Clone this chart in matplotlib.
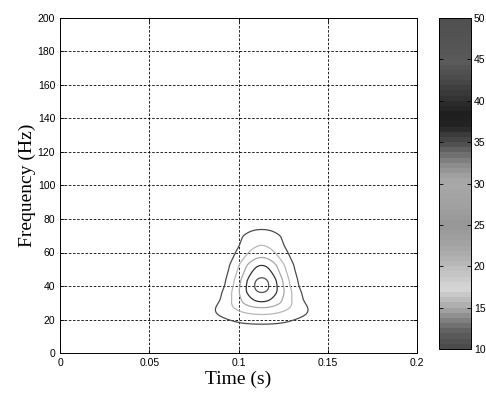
"""Time-frequency contour map with a banded grey colour scale."""

import matplotlib
matplotlib.use("Agg")
import matplotlib.pyplot as plt
import numpy as np
from matplotlib.colors import LinearSegmentedColormap, ListedColormap, Normalize
from matplotlib.cm import ScalarMappable

# contour levels and colour range
levels = [10, 20, 30, 40, 50]
clim = (10, 50)

# centre time of the burst (s)
t_centre = 0.113

# log-amplitude profile along the centre time, knots in Hz
prof_freq = [0, 12, 15.5, 16.7, 23, 27, 30.4, 36, 38, 40.5, 43, 45, 52.5, 57, 64, 70, 74, 77, 90, 200]
prof_logamp = [-6.0, 0.4, 1.6, 2.303, 3.0, 3.40, 3.69, 3.912, 3.96, 3.975, 3.96, 3.912, 3.69,
               3.40, 3.0, 2.80, 2.303, 1.4, -3.0, -20.0]

# time spread of the burst (s) against frequency
spread_freq = [0, 17, 22.7, 30.6, 40, 50, 60, 70, 200]
spread_time = [0.0235, 0.0225, 0.0215, 0.014, 0.0113, 0.0108, 0.0108, 0.0105, 0.0105]

# grey value of the colour scale at each data value
cmap_vals = [10, 11, 12, 13, 14, 15, 16, 17, 18.5, 20, 21, 23, 25, 27, 29, 30, 31, 32, 33,
             34, 35, 36, 37, 38.5, 40, 41, 43, 45, 47, 50]
cmap_grey = [75, 85, 100, 125, 150, 175, 195, 215, 200, 185, 175, 160, 150, 160, 165, 170,
             160, 145, 125, 100, 75, 60, 35, 30, 45, 55, 75, 90, 85, 80]

x_ticks = [0, 0.05, 0.1, 0.15, 0.2]
x_ticklabels = ["0", "0.05", "0.1", "0.15", "0.2"]
y_ticks = list(range(0, 201, 20))
cbar_ticks = [10, 15, 20, 25, 30, 35, 40, 45, 50]


def smooth(values, step, width):
    """Gaussian smoothing of a regularly sampled profile."""
    half = int(4 * width / step)
    k = np.exp(-0.5 * (np.arange(-half, half + 1) * step / width) ** 2)
    k /= k.sum()
    padded = np.pad(values, half, mode="edge")
    return np.convolve(padded, k, mode="valid")


df = 0.1
freq = np.arange(0, 200 + df, df)
time = np.linspace(0, 0.2, 801)

log_amp = smooth(np.interp(freq, prof_freq, prof_logamp), df, 0.8)
spread = smooth(np.interp(freq, spread_freq, spread_time), df, 1.5)

T, F = np.meshgrid(time, freq)
Z = np.exp(log_amp[:, None] - 0.5 * ((T - t_centre) / spread[:, None]) ** 2)

# banded grey scale, 64 steps
pos = (np.array(cmap_vals) - clim[0]) / (clim[1] - clim[0])
greys = [(g / 255, g / 255, g / 255) for g in cmap_grey]
smooth_cmap = LinearSegmentedColormap.from_list("tfgrey", list(zip(pos, greys)))
cmap = ListedColormap(smooth_cmap(np.linspace(0, 1, 64)))
norm = Normalize(*clim)

plt.rcParams["font.family"] = "Liberation Sans"

fig = plt.figure(figsize=(4.86, 3.94), dpi=100)
ax = fig.add_axes([60 / 486, 41 / 394, 357 / 486, 335 / 394])
cax = fig.add_axes([439 / 486, 45 / 394, 32 / 486, 331 / 394])

ax.contour(T, F, Z, levels=levels, cmap=cmap, norm=norm, linewidths=0.9)

ax.set_xlim(0, 0.2)
ax.set_ylim(0, 200)
ax.set_xticks(x_ticks)
ax.set_xticklabels(x_ticklabels)
ax.set_yticks(y_ticks)
ax.grid(True, color="black", linestyle=(0, (3, 2)), linewidth=0.6)
ax.tick_params(direction="in", length=3, width=0.6, top=True, right=True,
               labelsize=7.5, pad=3.5)
for sp in ax.spines.values():
    sp.set_linewidth(0.7)

ax.set_xlabel("Time (s)", family="Liberation Serif", fontsize=14, labelpad=2)
ax.set_ylabel("Frequency (Hz)", family="Liberation Serif", fontsize=14, labelpad=1)

cb = fig.colorbar(ScalarMappable(norm=norm, cmap=cmap), cax=cax)
cb.set_ticks(cbar_ticks)
cb.outline.set_linewidth(0.7)
cax.tick_params(direction="in", length=3, width=0.6, left=True, right=True,
                labelsize=7.5, pad=2)

fig.savefig("out.png", dpi=100)
